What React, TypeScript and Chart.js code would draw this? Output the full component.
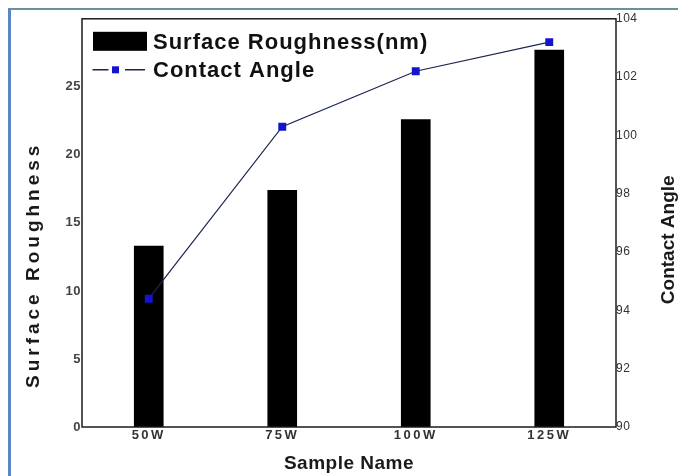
import React, { useEffect, useRef } from 'react';
import { Chart, registerables } from 'chart.js';

Chart.register(...registerables);

const categories = ['50W', '75W', '100W', '125W'];
const surfaceRoughness = [13.3, 17.4, 22.6, 27.7];
const contactAngle = [94.4, 100.3, 102.2, 103.2];
const roughnessTicks = [0, 5, 10, 15, 20, 25];
const angleTicks = [90, 92, 94, 96, 98, 100, 102, 104];
const barLabel = 'Surface Roughness(nm)';
const lineLabel = 'Contact Angle';
const xTitle = 'Sample Name';
const yTitle = 'Surface Roughness';
const y1Title = 'Contact Angle';

const FONT = "'Liberation Sans', Arial, Helvetica, sans-serif";

const decor = {
  id: 'decor',
  afterLayout(chart: any) {
    const s: any = chart.scales.x;
    if (s && !s.__ls) {
      const orig = s.drawLabels;
      s.drawLabels = function (area: any) {
        const ctx: any = this.ctx;
        const prev = ctx.letterSpacing;
        ctx.letterSpacing = '2.5px';
        orig.call(this, area);
        ctx.letterSpacing = prev;
      };
      s.__ls = true;
    }
  },
  beforeDraw(chart: any) {
    chart.ctx.letterSpacing = '0.5px';
  },
  afterDraw(chart: any) {
    const ctx: any = chart.ctx;
    const a = chart.chartArea;
    ctx.save();
    // plot frame
    ctx.strokeStyle = '#1b1b1b';
    ctx.lineWidth = 1.5;
    ctx.strokeRect(a.left, a.top, a.right - a.left, a.bottom - a.top);

    // legend
    const barDs: any = chart.data.datasets[0];
    const lineDs: any = chart.data.datasets[1];
    ctx.fillStyle = barDs.backgroundColor;
    ctx.fillRect(a.left + 11, a.top + 13, 54, 19);
    const ly = a.top + 51;
    ctx.strokeStyle = lineDs.borderColor;
    ctx.lineWidth = 1.5;
    ctx.beginPath();
    ctx.moveTo(a.left + 10.5, ly);
    ctx.lineTo(a.left + 26.5, ly);
    ctx.moveTo(a.left + 43, ly);
    ctx.lineTo(a.left + 63, ly);
    ctx.stroke();
    ctx.fillStyle = lineDs.pointBackgroundColor;
    ctx.fillRect(a.left + 30, ly - 3.5, 7, 7);

    ctx.font = `bold 22px ${FONT}`;
    ctx.fillStyle = '#111';
    ctx.letterSpacing = '1px';
    ctx.textAlign = 'left';
    ctx.textBaseline = 'alphabetic';
    ctx.fillText(barDs.label, a.left + 71, a.top + 30);
    ctx.fillText(lineDs.label, a.left + 71, a.top + 58);

    // axis titles (both read bottom-to-top)
    ctx.font = `bold 19px ${FONT}`;
    ctx.fillStyle = '#1a1a1a';
    ctx.textAlign = 'center';
    ctx.textBaseline = 'middle';
    ctx.save();
    ctx.translate(a.left - 48, a.top + 248);
    ctx.rotate(-Math.PI / 2);
    ctx.letterSpacing = '4px';
    ctx.fillText(yTitle, 2, 0);
    ctx.restore();

    ctx.save();
    ctx.translate(a.right + 53, a.top + 221);
    ctx.rotate(-Math.PI / 2);
    ctx.letterSpacing = '0px';
    ctx.fillText(y1Title, 0, 0);
    ctx.restore();

    ctx.restore();
    ctx.letterSpacing = '0px';
  },
};

export default function App() {
  const ref = useRef<HTMLCanvasElement | null>(null);

  useEffect(() => {
    document.body.style.overflow = 'hidden';
    if (!ref.current) return;
    const chart = new Chart(ref.current, {
      type: 'bar',
      data: {
        labels: categories,
        datasets: [
          {
            type: 'bar',
            label: barLabel,
            data: surfaceRoughness,
            backgroundColor: '#000000',
            borderWidth: 0,
            barThickness: 29,
            yAxisID: 'y',
            order: 2,
          } as any,
          {
            type: 'line',
            label: lineLabel,
            data: contactAngle,
            borderColor: '#1c2452',
            borderWidth: 1.2,
            pointStyle: 'rect',
            pointRadius: 5.6,
            pointBackgroundColor: '#1414cc',
            pointBorderColor: '#1414cc',
            pointBorderWidth: 0,
            tension: 0,
            yAxisID: 'y1',
            order: 1,
          } as any,
        ],
      },
      options: {
        animation: false,
        responsive: false,
        devicePixelRatio: 1,
        layout: { padding: { top: 7, left: 0, right: 0, bottom: 0 } },
        plugins: {
          legend: { display: false },
          tooltip: { enabled: false },
        },
        scales: {
          x: {
            type: 'category',
            offset: true,
            grid: { display: false, drawTicks: false },
            border: { display: false },
            ticks: {
              color: '#333',
              font: { family: FONT, size: 13, weight: 'bold' },
              padding: 1,
            },
            title: {
              display: true,
              text: xTitle,
              color: '#1a1a1a',
              font: { family: FONT, size: 19, weight: 'bold' },
              padding: { top: 0, bottom: 1 },
            },
            afterFit(scale: any) {
              scale.height = 49;
            },
          },
          y: {
            type: 'linear',
            position: 'left',
            min: 0,
            max: 30,
            grid: { display: false, drawTicks: false },
            border: { display: false },
            ticks: {
              color: '#444',
              font: { family: FONT, size: 13, weight: 'bold' },
              padding: 1,
            },
            afterBuildTicks(scale: any) {
              scale.ticks = roughnessTicks.map((v) => ({ value: v }));
            },
            afterFit(scale: any) {
              scale.width = 71;
            },
          },
          y1: {
            type: 'linear',
            position: 'right',
            min: 90,
            max: 104,
            grid: { display: false, drawTicks: false },
            border: { display: false },
            ticks: {
              color: '#333',
              font: { family: FONT, size: 12 },
              padding: 0,
            },
            afterBuildTicks(scale: any) {
              scale.ticks = angleTicks.map((v) => ({ value: v }));
            },
            afterFit(scale: any) {
              scale.width = 62;
            },
          },
        },
      } as any,
      plugins: [decor],
    });
    return () => chart.destroy();
  }, []);

  return (
    <div
      style={{
        position: 'fixed',
        left: 8,
        top: 8,
        width: 670,
        height: 468,
        boxSizing: 'border-box',
        borderTop: '2px solid #6d8f99',
        borderLeft: '3px solid #5a86c8',
        background: '#ffffff',
        overflow: 'hidden',
      }}
    >
      <canvas ref={ref} width={667} height={466} style={{ display: 'block', width: 667, height: 466 }} />
    </div>
  );
}
